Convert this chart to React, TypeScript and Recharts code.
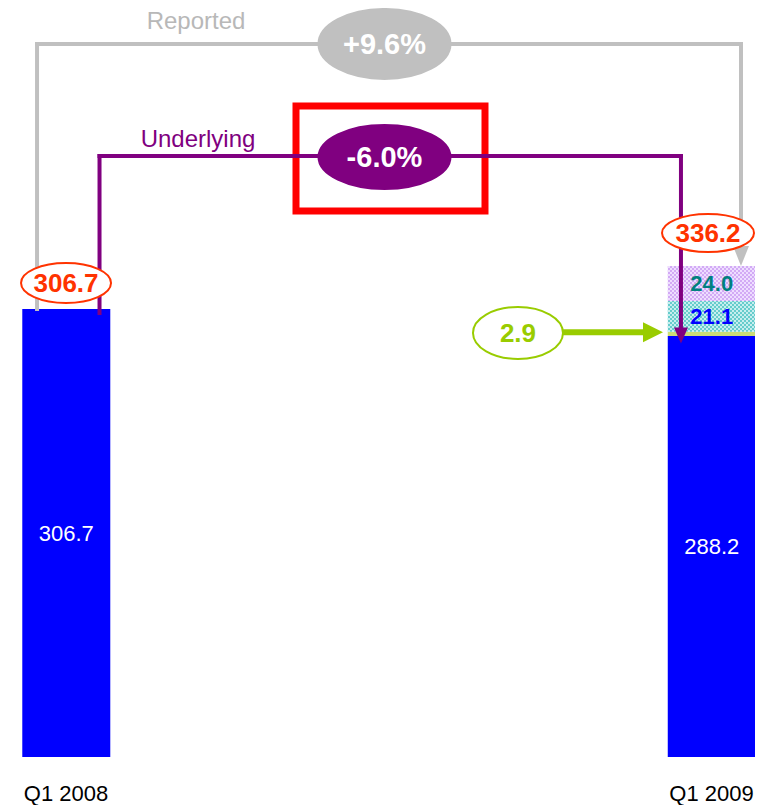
import { Bar, BarChart, LabelList, ReferenceArea, ReferenceDot, ReferenceLine, XAxis, YAxis } from 'recharts';

// categories and stacked values (Q1 2009 split into base + three add-ons)
const categories = ['Q1 2008', 'Q1 2009'];
const baseValues = [306.7, 288.2];
const smallValues = [null, 2.9];
const midValues = [null, 21.1];
const topValues = [null, 24.0];
const totals = [306.7, 336.2];
const reportedGrowth = '+9.6%';
const underlyingGrowth = '-6.0%';

const data = categories.map((name, i) => ({
  pos: i,
  name,
  base: baseValues[i],
  small: smallValues[i],
  mid: midValues[i],
  top: topValues[i],
}));

// annotation anchors, in data units (x: 0 = Q1 2008, 1 = Q1 2009)
const GRAY_L = -0.0449;
const GRAY_R = 1.0457;
const GRAY_TOP = 488.1;
const PURP_L = 0.0519;
const PURP_R = 0.9527;
const PURP_TOP = 411.4;
const PILL_X = 0.4934;
const ARROW_Y = 290.8;

const GRAY = '#C0C0C0';
const PURPLE = '#800080';
const ORANGE = '#FF3300';
const GREEN = '#99CC00';

const fmt = (v: any) => (v == null ? '' : Number(v).toFixed(1));

function pill(rx: number, ry: number, fill: string, stroke: string, text: string, color: string, size: number) {
  return (p: any) => (
    <g>
      <ellipse cx={p.cx} cy={p.cy} rx={rx} ry={ry} fill={fill} stroke={stroke} strokeWidth={2} />
      <text x={p.cx} y={p.cy} textAnchor="middle" dominantBaseline="central" fill={color} fontSize={size} fontWeight="bold">
        {text}
      </text>
    </g>
  );
}

function word(text: string, color: string) {
  return (p: any) => (
    <text x={p.cx} y={p.cy} textAnchor="middle" dominantBaseline="central" fill={color} fontSize={24}>
      {text}
    </text>
  );
}

const arrowDown = (color: string, hw: number, h: number) => (p: any) => (
  <polygon points={`${p.cx},${p.cy} ${p.cx - hw},${p.cy - h} ${p.cx + hw},${p.cy - h}`} fill={color} />
);
const arrowRight = (p: any) => (
  <polygon points={`${p.cx},${p.cy} ${p.cx - 20},${p.cy - 10} ${p.cx - 20},${p.cy + 10}`} fill={GREEN} />
);

export default function App() {
  return (
    <div style={{ width: 756, height: 797, fontFamily: '"Liberation Sans", Arial, sans-serif' }}>
      <BarChart width={756} height={797} data={data} margin={{ top: 4, right: 9, left: 14, bottom: 0 }}>
        <defs>
          <pattern id="lav" width="4" height="4" patternUnits="userSpaceOnUse">
            <rect width="4" height="4" fill="#EEDDFF" />
            <rect width="2" height="2" fill="#D2AAF5" />
            <rect x="2" y="2" width="2" height="2" fill="#D2AAF5" />
          </pattern>
          <pattern id="teal" width="4" height="4" patternUnits="userSpaceOnUse">
            <rect width="4" height="4" fill="#C6EEEE" />
            <rect width="2" height="2" fill="#66CCCC" />
            <rect x="2" y="2" width="2" height="2" fill="#66CCCC" />
          </pattern>
        </defs>
        <XAxis
          type="number"
          dataKey="pos"
          domain={[-0.0682, 1.0674]}
          allowDataOverflow
          ticks={[0, 1]}
          interval={0}
          tickFormatter={(v: number) => categories[v] ?? ''}
          axisLine={false}
          tickLine={false}
          tickMargin={22}
          height={48}
          tick={{ fill: '#000', fontSize: 22 }}
        />
        <YAxis hide domain={[0, 510]} allowDataOverflow />
        <Bar dataKey="base" stackId="a" fill="#0000FF" barSize={88} isAnimationActive={false}>
          <LabelList dataKey="base" position="center" fill="#fff" fontSize={22} formatter={fmt} />
        </Bar>
        <Bar dataKey="small" stackId="a" fill="#CCDD77" barSize={88} isAnimationActive={false} />
        <Bar dataKey="mid" stackId="a" fill="url(#teal)" barSize={88} isAnimationActive={false}>
          <LabelList dataKey="mid" position="center" fill="#0000FF" fontSize={22} fontWeight="bold" formatter={fmt} />
        </Bar>
        <Bar dataKey="top" stackId="a" fill="url(#lav)" barSize={88} isAnimationActive={false}>
          <LabelList dataKey="top" position="center" fill="#008080" fontSize={22} fontWeight="bold" formatter={fmt} />
        </Bar>

        <ReferenceArea x1={0.3563} x2={0.6491} y1={373.8} y2={445.6} fill="none" stroke="#FF0000" strokeWidth={7} />

        {/* reported connector */}
        <ReferenceLine segment={[{ x: GRAY_L, y: totals[0] }, { x: GRAY_L, y: GRAY_TOP }]} stroke={GRAY} strokeWidth={4} strokeLinecap="square" />
        <ReferenceLine segment={[{ x: GRAY_L, y: GRAY_TOP }, { x: GRAY_R, y: GRAY_TOP }]} stroke={GRAY} strokeWidth={4} strokeLinecap="square" />
        <ReferenceLine segment={[{ x: GRAY_R, y: GRAY_TOP }, { x: GRAY_R, y: 350 }]} stroke={GRAY} strokeWidth={4} strokeLinecap="square" />
        {/* underlying connector */}
        <ReferenceLine segment={[{ x: PURP_L, y: 304 }, { x: PURP_L, y: PURP_TOP }]} stroke={PURPLE} strokeWidth={4} strokeLinecap="square" />
        <ReferenceLine segment={[{ x: PURP_L, y: PURP_TOP }, { x: PURP_R, y: PURP_TOP }]} stroke={PURPLE} strokeWidth={4} strokeLinecap="square" />
        <ReferenceLine segment={[{ x: PURP_R, y: PURP_TOP }, { x: PURP_R, y: 290 }]} stroke={PURPLE} strokeWidth={4} strokeLinecap="square" />
        {/* fx arrow */}
        <ReferenceLine segment={[{ x: 0.77, y: ARROW_Y }, { x: 0.91, y: ARROW_Y }]} stroke={GREEN} strokeWidth={6} />

        <ReferenceDot x={GRAY_R} y={totals[1]} shape={arrowDown(GRAY, 8, 20)} />
        <ReferenceDot x={PURP_R} y={283} shape={arrowDown(PURPLE, 7, 16)} />
        <ReferenceDot x={0.9249} y={ARROW_Y} shape={arrowRight} />

        <ReferenceDot x={PILL_X} y={GRAY_TOP} shape={pill(66, 35, GRAY, GRAY, reportedGrowth, '#fff', 29)} />
        <ReferenceDot x={PILL_X} y={410.7} shape={pill(66, 32, PURPLE, PURPLE, underlyingGrowth, '#fff', 29)} />
        <ReferenceDot x={0.2014} y={504.5} shape={word('Reported', '#B8B8B8')} />
        <ReferenceDot x={0.2045} y={423.7} shape={word('Underlying', PURPLE)} />

        <ReferenceDot x={0} y={324.5} shape={pill(45, 20, '#fff', ORANGE, fmt(totals[0]), ORANGE, 26)} />
        <ReferenceDot x={0.9946} y={358.7} shape={pill(46, 19, '#fff', ORANGE, fmt(totals[1]), ORANGE, 26)} />
        <ReferenceDot x={0.7002} y={290.3} shape={pill(45, 26, '#fff', GREEN, fmt(smallValues[1]), GREEN, 26)} />
      </BarChart>
    </div>
  );
}
